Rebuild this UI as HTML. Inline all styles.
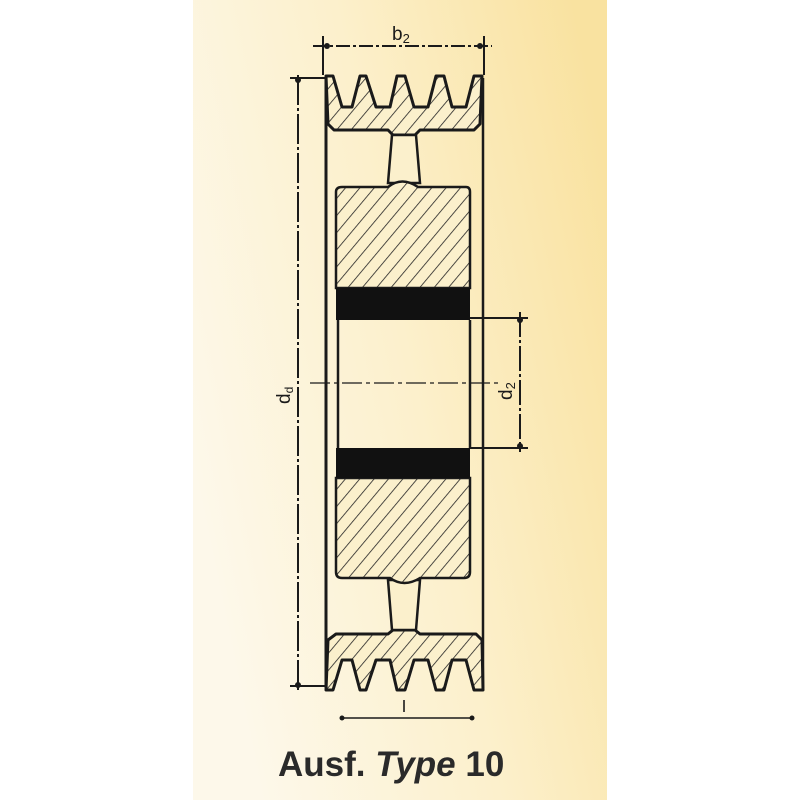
<!DOCTYPE html>
<html><head><meta charset="utf-8"><style>
html,body{margin:0;padding:0;width:800px;height:800px;background:#fff;overflow:hidden}
</style></head><body>
<svg width="800" height="800" viewBox="0 0 800 800" xmlns="http://www.w3.org/2000/svg">
<defs>
<linearGradient id="bg" x1="0" y1="0.6" x2="1" y2="0.2">
<stop offset="0" stop-color="#fdf8ea"/>
<stop offset="0.5" stop-color="#fcf0cc"/>
<stop offset="1" stop-color="#f9e2a0"/>
</linearGradient>
<pattern id="h" width="11" height="11" patternUnits="userSpaceOnUse" patternTransform="rotate(40)">
<rect width="11" height="11" fill="#fbf0cc"/>
<line x1="0" y1="0" x2="0" y2="11" stroke="#222" stroke-width="1.6"/>
</pattern>
</defs>
<rect x="193" y="0" width="414" height="800" fill="url(#bg)"/>
<g stroke="#1a1a1a" fill="none" stroke-width="2">
<line x1="313" y1="46" x2="492" y2="46" stroke-dasharray="14 3 3 3"/>
<line x1="323" y1="36" x2="323" y2="75"/>
<line x1="484" y1="36" x2="484" y2="75"/>
<line x1="326" y1="78" x2="326" y2="688" stroke-width="3"/>
<line x1="483" y1="78" x2="483" y2="688" stroke-width="2.5"/>
<line x1="298" y1="75" x2="298" y2="690" stroke-dasharray="30 3 3 3"/>
<line x1="290" y1="78" x2="326" y2="78"/>
<line x1="290" y1="686" x2="326" y2="686"/>
<line x1="310" y1="383" x2="500" y2="383" stroke-dasharray="20 4 4 4" stroke-width="1.2"/>
<line x1="520" y1="312" x2="520" y2="452" stroke-dasharray="25 3 3 3"/>
<line x1="470" y1="318" x2="528" y2="318"/>
<line x1="470" y1="448" x2="528" y2="448"/>
<line x1="342" y1="718" x2="472" y2="718" stroke-width="1.6"/>
<line x1="404" y1="700" x2="404" y2="712" stroke-width="1.6"/>
</g>
<g fill="#1a1a1a">
<circle cx="327" cy="46" r="3"/><circle cx="480" cy="46" r="3"/>
<circle cx="298" cy="80" r="3"/><circle cx="298" cy="685" r="3"/>
<circle cx="520" cy="320" r="3"/><circle cx="520" cy="446" r="3"/>
<circle cx="342" cy="718" r="2.5"/><circle cx="472" cy="718" r="2.5"/>
</g>
<path d="M326,76 L333,76 L342,107 L352,107 L360,76 L366,76 L376,107 L390,107 L397,76 L405,76 L414,107 L428,107 L436,76 L444,76 L452,107 L466,107 L474,76 L482,76 L480,124 L474,130 L420,130 L415,135 L393,135 L388,130 L334,130 L328,124 Z" fill="url(#h)" stroke="#1a1a1a" stroke-width="3" stroke-linejoin="round"/>
<path d="M326,690 L333,690 L342,660 L352,660 L360,690 L366,690 L376,660 L390,660 L397,690 L405,690 L414,660 L428,660 L436,690 L444,690 L452,660 L466,660 L474,690 L483,690 L482,640 L476,634 L420,634 L415,630 L393,630 L388,634 L336,634 L328,640 Z" fill="url(#h)" stroke="#1a1a1a" stroke-width="3" stroke-linejoin="round"/>
<path d="M392,135 L388,183 L420,183 L416,135 Z" fill="#fbf0cc" stroke="#1a1a1a" stroke-width="2.5"/>
<path d="M392,630 L388,580 L420,580 L416,630 Z" fill="#fbf0cc" stroke="#1a1a1a" stroke-width="2.5"/>
<path d="M342,187 L388,187 Q402,176 418,187 L466,187 Q470,187 470,192 L470,288 L336,288 L336,192 Q336,187 342,187 Z" fill="url(#h)" stroke="#1a1a1a" stroke-width="2.5"/>
<path d="M336,478 L470,478 L470,572 Q470,578 464,578 L420,578 Q404,588 390,578 L342,578 Q336,578 336,572 Z" fill="url(#h)" stroke="#1a1a1a" stroke-width="2.5"/>
<rect x="336" y="288" width="134" height="32" fill="#111"/>
<rect x="336" y="448" width="134" height="30" fill="#111"/>
<line x1="338" y1="320" x2="338" y2="448" stroke="#1a1a1a" stroke-width="2.5"/>
<line x1="470" y1="320" x2="470" y2="448" stroke="#1a1a1a" stroke-width="2.5"/>
<g font-family="Liberation Sans, sans-serif" fill="#1a1a1a">
<text x="392" y="40" font-size="19">b<tspan font-size="13" dy="3">2</tspan></text>
<text transform="translate(290,404) rotate(-90)" font-size="19">d<tspan font-size="12" dy="3">d</tspan></text>
<text transform="translate(512,400) rotate(-90)" font-size="19">d<tspan font-size="13" dy="3">2</tspan></text>
<text x="278" y="776" font-size="35" font-weight="bold" fill="#2a2a2a">Ausf. <tspan font-style="italic">Type</tspan> 10</text>
</g>
</svg>
</body></html>
